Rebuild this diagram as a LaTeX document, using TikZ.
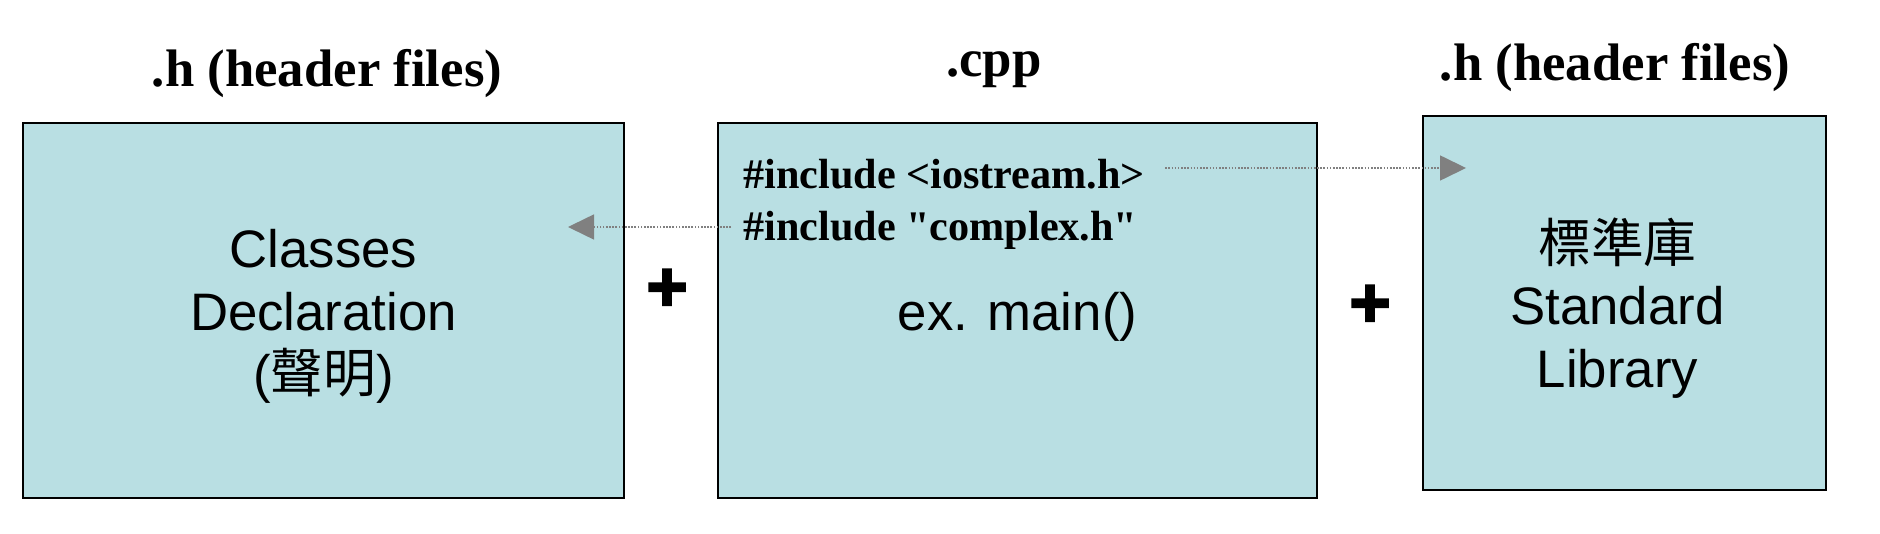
\documentclass[tikz,border=0pt]{standalone}
\usepackage{fontspec}
\setmainfont{Liberation Serif}
\setsansfont{Liberation Sans}
\newfontfamily\codefont{Liberation Serif}
\newfontfamily\cjkfont{Noto Sans CJK TC}
\newfontfamily\plusfont[FakeBold=3]{Liberation Sans Bold}
\usetikzlibrary{arrows.meta,positioning}
\definecolor{boxblue}{HTML}{B9DFE3}
\definecolor{linkgray}{HTML}{808080}
\tikzset{%
	filebox/.style  = {draw, line width=0.6pt, fill=boxblue, rectangle, inner sep=0pt}, % File
	boxtext/.style  = {align=center, font=\sffamily\fontsize{15}{17.8}\selectfont}, % File content
	heading/.style  = {font=\bfseries\fontsize{15}{18}\selectfont}, % File type
	codeline/.style = {font=\codefont\bfseries\fontsize{12}{14}\selectfont, anchor=base west}, % Include line
	plus/.style     = {font=\plusfont\fontsize{20}{20}\selectfont}, % Plus
	link/.style     = {linkgray, line width=0.45pt, dash pattern=on 0.45pt off 0.45pt, -{Triangle[length=2.6mm,width=2.5mm]}},
}

\begin{document}
\begin{tikzpicture}[x=0.01cm, y=-0.01cm]
	\useasboundingbox (0,0) rectangle (1880,534);
	\node[filebox, minimum width=6.01cm, minimum height=3.75cm] (decl) at (323.5,310.5) {};
	\node[filebox, minimum width=5.98cm, minimum height=3.75cm, right=0.92cm of decl] (main) {};
	\node[filebox, minimum width=4.03cm, minimum height=3.74cm, right=1.04cm of main, yshift=0.075cm] (lib) {};
	\node[boxtext] (declText) at ([yshift=-0.06cm]decl.center) {Classes\\Declaration\\({\cjkfont 聲明})};
	\node[boxtext] (mainText) at ([yshift=-0.06cm]main.center) {ex. main()};
	\node[boxtext] (libText) at ([xshift=-0.07cm,yshift=-0.05cm]lib.center) {{\cjkfont 標準庫}\\Standard\\Library};
	\node[heading] (hdecl) at (327,74) {.h (header files)};
	\node[heading] (hmain) at (994,70) {.cpp};
	\node[heading] (hlib) at (1615,68) {.h (header files)};
	\node[codeline] (inc1) at (731,189) {\#include <iostream.h>};
	\node[codeline] (inc2) at (731,241) {\#include "complex.h"};
	\node[plus] (plusA) at (667,290) {+};
	\node[plus] (plusB) at (1370,306) {+};
	\coordinate (tipR) at (1466,168);
	\coordinate (tipL) at (568,227);
	\draw[link] ([xshift=0.08cm]inc1.east |- tipR) -- (tipR);
	\draw[link] (inc2.west |- tipL) -- (tipL);
\end{tikzpicture}
\end{document}
